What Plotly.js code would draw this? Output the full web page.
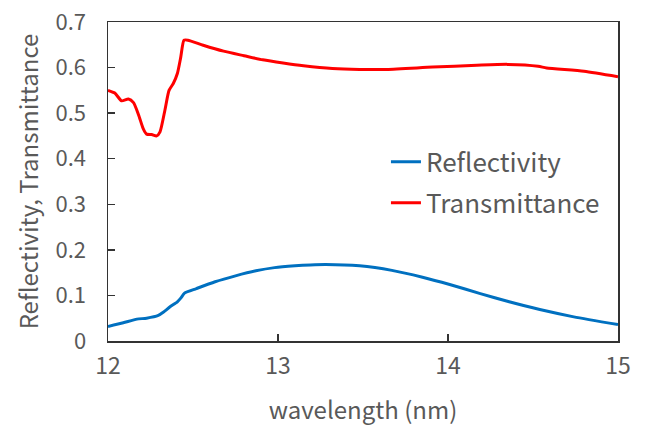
<!DOCTYPE html>
<html>
<head>
<meta charset="utf-8">
<script src="https://cdn.plot.ly/plotly-3.0.1.min.js"></script>
<style>html,body{margin:0;padding:0;background:#fff}#chart{width:648px;height:434px}</style>
</head>
<body>
<div id="chart"></div>
<script>
const transWl = [12.0, 12.04, 12.08, 12.12, 12.15, 12.18, 12.207, 12.227, 12.257, 12.286, 12.306, 12.335, 12.359, 12.384, 12.408, 12.428, 12.447, 12.47, 12.56, 12.68, 12.80, 12.91, 13.03, 13.15, 13.32, 13.48, 13.64, 13.91, 14.17, 14.35, 14.53, 14.58, 14.80, 15.0];
const transVal = [0.550, 0.544, 0.527, 0.531, 0.523, 0.496, 0.466, 0.454, 0.453, 0.450, 0.459, 0.507, 0.550, 0.565, 0.587, 0.623, 0.660, 0.660, 0.649, 0.636, 0.626, 0.617, 0.610, 0.604, 0.598, 0.596, 0.596, 0.601, 0.605, 0.607, 0.603, 0.599, 0.592, 0.580];
const reflWl = [12.0, 12.09, 12.17, 12.227, 12.296, 12.325, 12.365, 12.408, 12.428, 12.45, 12.52, 12.63, 12.75, 12.87, 12.98, 13.10, 13.19, 13.28, 13.48, 13.67, 13.85, 14.01, 14.19, 14.36, 14.54, 14.74, 15.0];
const reflVal = [0.032, 0.040, 0.048, 0.050, 0.056, 0.063, 0.075, 0.086, 0.094, 0.105, 0.115, 0.130, 0.143, 0.154, 0.161, 0.165, 0.167, 0.168, 0.165, 0.155, 0.140, 0.124, 0.104, 0.086, 0.069, 0.053, 0.036];
const xTicks = [12, 13, 14, 15];
const yTicks = [0, 0.1, 0.2, 0.3, 0.4, 0.5, 0.6, 0.7];

const fontFam = '"Noto Sans CJK JP", "Noto Sans", sans-serif';
const grey = '#595959';

const traces = [
  {x: reflWl, y: reflVal, name: 'Reflectivity', mode: 'lines', legendgroup: 'a',
   line: {color: '#0070C0', width: 3, shape: 'spline', smoothing: 0.6}},
  {x: transWl, y: transVal, name: 'Transmittance', mode: 'lines', legendgroup: 'b',
   line: {color: '#FF0000', width: 3, shape: 'spline', smoothing: 0.6}}
];

const layout = {
  width: 648, height: 434,
  margin: {l: 108, r: 30, t: 22, b: 93},
  paper_bgcolor: '#fff', plot_bgcolor: '#fff',
  font: {family: fontFam, color: grey, size: 22},
  showlegend: true,
  legend: {x: 0.545, y: 0.635, xanchor: 'left', yanchor: 'top', bgcolor: 'rgba(0,0,0,0)',
           font: {size: 26, color: grey, family: fontFam}, traceorder: 'grouped', tracegroupgap: 4},
  xaxis: {
    range: [12, 15], tickvals: xTicks, ticktext: xTicks.map(String),
    ticks: 'inside', ticklen: 7, tickcolor: '#333', tickwidth: 1.3,
    showline: true, linecolor: '#333', linewidth: 1.5, mirror: true,
    showgrid: false, zeroline: false,
    tickfont: {size: 23, color: grey}, ticklabelstandoff: 4,
    title: {text: 'wavelength (nm)', font: {size: 24, color: grey}, standoff: 22}
  },
  yaxis: {
    range: [0, 0.7], tickvals: yTicks, ticktext: yTicks.map(v => v === 0 ? '0' : v.toFixed(1)),
    ticks: 'inside', ticklen: 7, tickcolor: '#333', tickwidth: 1.3,
    showline: true, linecolor: '#333', linewidth: 1.5, mirror: true,
    showgrid: false, zeroline: false,
    tickfont: {size: 22, color: grey}, ticklabelstandoff: 16,
    title: {text: 'Reflectivity, Transmittance', font: {size: 24, color: grey}, standoff: 10}
  }
};

Plotly.newPlot('chart', traces, layout, {staticPlot: true, displayModeBar: false});
</script>
</body>
</html>
